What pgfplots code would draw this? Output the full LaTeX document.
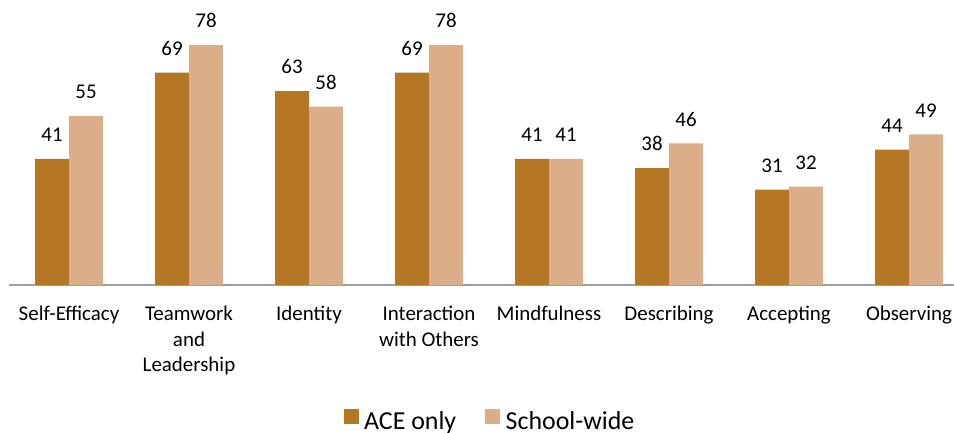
\documentclass[border=0pt]{standalone}
\usepackage{fontspec}
\setmainfont{Carlito}
\usepackage{pgfplots}
\pgfplotsset{compat=1.18}
\definecolor{ace}{RGB}{180,119,36}
\definecolor{school}{RGB}{219,173,136}
\begin{document}
\begin{tikzpicture}
\begin{axis}[name=ax, scale only axis, width=945bp, height=261.5bp,
 ymin=0, ymax=85, xmin=-0.5, xmax=7.375,
 ybar=0pt, bar width=0.2833,
 axis x line*=bottom, hide y axis,
 x axis line style={-, draw=black!38, line width=1.3bp},
 xtick={0,...,7}, major tick length=0pt,
 xticklabels={Self-Efficacy, {Teamwork\\and\\Leadership}, Identity, {Interaction\\with Others}, Mindfulness, Describing, Accepting, Observing},
 xticklabel style={align=center, font=\fontsize{21}{25.6}\selectfont, anchor=north, inner sep=0pt, yshift=-21bp},
 nodes near coords,
 /pgf/number format/assume math mode=true,
 every node near coord/.append style={font=\fontsize{21}{25}\selectfont, anchor=south, inner sep=0pt, yshift=17bp, black},
 clip=false,
 legend style={at={(0.5,-0.52)}, xshift=8.5bp, anchor=center, draw=none, legend columns=2,
   font=\fontsize{26}{30}\selectfont,
   /tikz/every odd column/.append style={column sep=3.5bp},
   /tikz/every even column/.append style={column sep=27bp}},
 legend image code/.code={\fill[#1] (0bp,-2bp) rectangle (15bp,13bp);},
]
\addplot[fill=ace, draw=none] coordinates {(0,41) (1,69) (2,63) (3,69) (4,41) (5,38) (6,31) (7,44)};
\addplot[fill=school, draw=none] coordinates {(0,55) (1,78) (2,58) (3,78) (4,41) (5,46) (6,32) (7,49)};
\legend{ACE only, School-wide}
\end{axis}
\pgfresetboundingbox
\path[use as bounding box] ([xshift=-9bp,yshift=-148bp]ax.south west) rectangle ++(954bp,433bp);
\end{tikzpicture}
\end{document}
